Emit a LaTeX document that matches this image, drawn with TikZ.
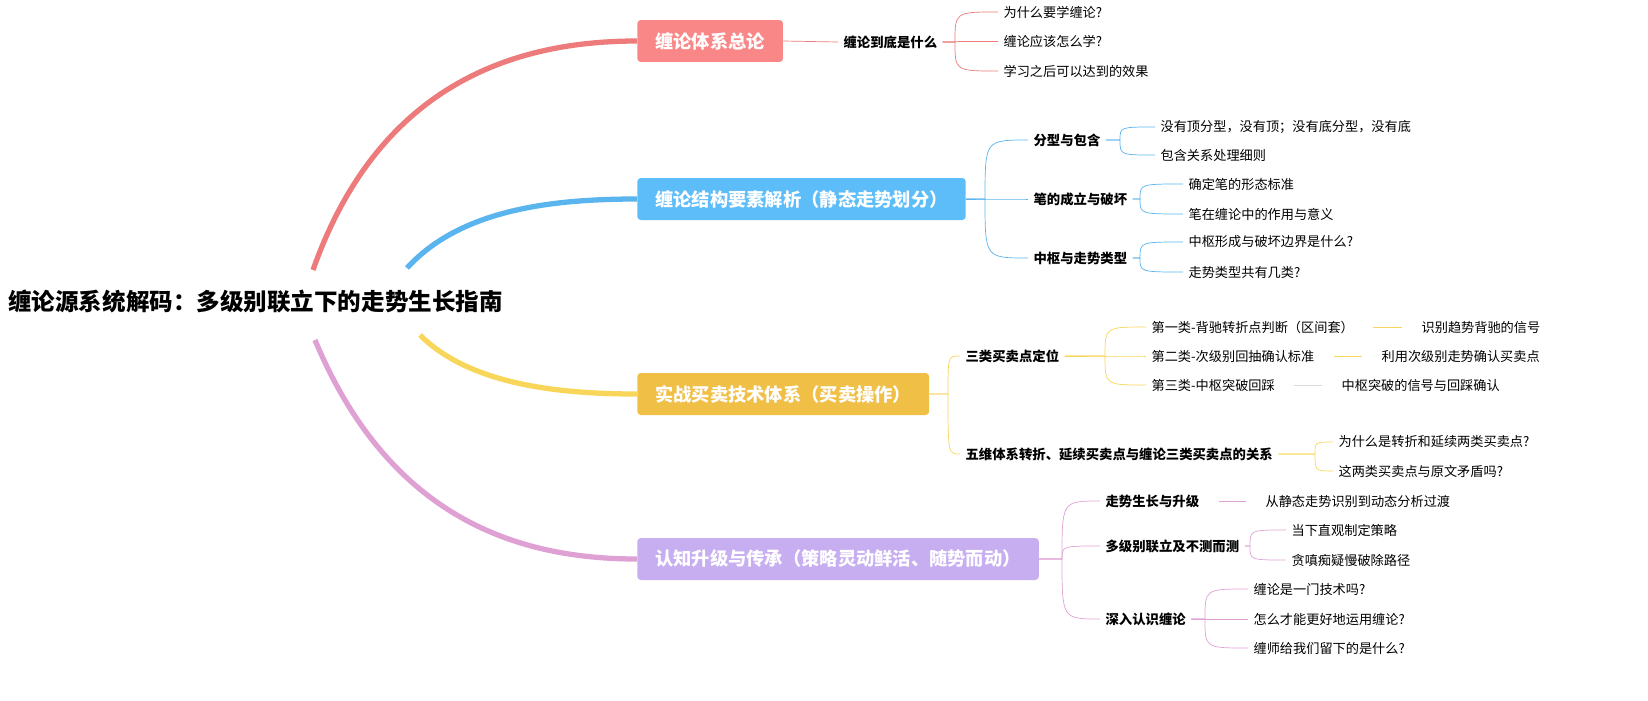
\documentclass[tikz,border=0pt]{standalone}
\usepackage{fontspec}
\setmainfont{Noto Sans CJK SC}
\definecolor{cred}{HTML}{F98787}
\definecolor{cblue}{HTML}{5DBDF9}
\definecolor{cyellow}{HTML}{F0BF46}
\definecolor{cpurple}{HTML}{C7AEF0}
\definecolor{lred}{HTML}{EE7B7B}
\definecolor{lblue}{HTML}{5AB4EE}
\definecolor{lyellow}{HTML}{F7D65A}
\definecolor{lpurple}{HTML}{DFA1D4}
\tikzset{
    mainbox/.style={rounded corners=2pt, text=white, font=\fontsize{10.4pt}{12pt}\selectfont\bfseries,
        minimum height=0.84cm, inner xsep=0.36cm, anchor=west},
    subitem/.style={font=\fontsize{7.6pt}{9pt}\selectfont\bfseries, anchor=west, inner sep=3pt},
    leaf/.style={font=\fontsize{7.5pt}{9pt}\selectfont, anchor=west, inner sep=3pt},
}
% fork: from parent to child through a bend point
\newcommand{\fork}[4]{\draw[#1] (#2.east) -- (#3) .. controls (#3 |- #4.west) .. (#4.west);}
\begin{document}
\begin{tikzpicture}[x=0.02cm,y=-0.02cm]
    % root
    \node[font=\fontsize{13.4pt}{15pt}\selectfont\bfseries, anchor=west, inner sep=0] (root) at (8,302) {缠论源系统解码：多级别联立下的走势生长指南};

    % main branches
    \node[mainbox, fill=cred] (b1) at (637,41) {缠论体系总论};
    \node[mainbox, fill=cblue] (b2) at (637,199) {缠论结构要素解析（静态走势划分）};
    \node[mainbox, fill=cyellow] (b3) at (637,394) {实战买卖技术体系（买卖操作）};
    \node[mainbox, fill=cpurple] (b4) at (637,559) {认知升级与传承（策略灵动鲜活、随势而动）};

    \draw[lred, line width=3pt] (313,270) .. controls (380,80) and (520,41) .. (b1.west);
    \draw[lblue, line width=3pt] (407,268) .. controls (460,210) and (550,199) .. (b2.west);
    \draw[lyellow, line width=3pt] (420,335) .. controls (470,385) and (560,394) .. (b3.west);
    \draw[lpurple, line width=3pt] (315,340) .. controls (390,520) and (520,559) .. (b4.west);

    % red
    \node[subitem] (r1) at (838,42) {缠论到底是什么};
    \draw[lred] (b1.east) -- (r1.west);
    \coordinate (fr1) at (955,42);
    \foreach \t [count=\i] in {为什么要学缠论?,缠论应该怎么学?,学习之后可以达到的效果}
    {
        \node[leaf] (r1\i) at (998,12+\i*29.5-29.5) {\t};
        \fork{lred}{r1}{fr1}{r1\i}
    }

    % blue
    \coordinate (fb2) at (985,199);
    \node[subitem] (u1) at (1028,140) {分型与包含};
    \node[subitem] (u2) at (1028,199) {笔的成立与破坏};
    \node[subitem] (u3) at (1028,258) {中枢与走势类型};
    \foreach \i in {1,2,3} { \fork{lblue}{b2}{fb2}{u\i} }
    \coordinate (fu1) at (1120,140);
    \node[leaf] (u11) at (1155,127) {没有顶分型，没有顶；没有底分型，没有底};
    \node[leaf] (u12) at (1155,155) {包含关系处理细则};
    \coordinate (fu2) at (1140,199);
    \node[leaf] (u21) at (1183,184) {确定笔的形态标准};
    \node[leaf] (u22) at (1183,214) {笔在缠论中的作用与意义};
    \coordinate (fu3) at (1140,258);
    \node[leaf] (u31) at (1183,242) {中枢形成与破坏边界是什么?};
    \node[leaf] (u32) at (1183,272) {走势类型共有几类?};
    \foreach \i in {1,2,3} { \fork{lblue}{u\i}{fu\i}{u\i1} \fork{lblue}{u\i}{fu\i}{u\i2} }

    % yellow
    \coordinate (fb3) at (948,394);
    \node[subitem] (y1) at (960,356) {三类买卖点定位};
    \node[subitem] (y2) at (960,454) {五维体系转折、延续买卖点与缠论三类买卖点的关系};
    \foreach \i in {1,2} { \fork{lyellow}{b3}{fb3}{y\i} }
    \coordinate (fy1) at (1105,356);
    \node[leaf] (y11) at (1146,327) {第一类-背驰转折点判断（区间套）};
    \node[leaf] (y12) at (1146,356) {第二类-次级别回抽确认标准};
    \node[leaf] (y13) at (1146,385) {第三类-中枢突破回踩};
    \node[leaf] (y111) at (1416,327) {识别趋势背驰的信号};
    \node[leaf] (y121) at (1376,356) {利用次级别走势确认买卖点};
    \node[leaf] (y131) at (1336,385) {中枢突破的信号与回踩确认};
    \foreach \i in {1,2,3} { \fork{lyellow}{y1}{fy1}{y1\i} }
    \draw[lyellow] ([xshift=14*0.02cm]y11.east) -- ([xshift=-14*0.02cm]y111.west);
    \draw[lyellow] ([xshift=14*0.02cm]y12.east) -- ([xshift=-14*0.02cm]y121.west);
    \draw[gray!30] ([xshift=14*0.02cm]y13.east) -- ([xshift=-14*0.02cm]y131.west);
    \coordinate (fy2) at (1315,454);
    \node[leaf] (y21) at (1333,442) {为什么是转折和延续两类买卖点?};
    \node[leaf] (y22) at (1333,471) {这两类买卖点与原文矛盾吗?};
    \foreach \i in {1,2} { \fork{lyellow}{y2}{fy2}{y2\i} }

    % purple
    \coordinate (fb4) at (1062,559);
    \node[subitem] (p1) at (1100,501) {走势生长与升级};
    \node[subitem] (p2) at (1100,546) {多级别联立及不测而测};
    \node[subitem] (p3) at (1100,619) {深入认识缠论};
    \foreach \i in {1,2,3} { \fork{lpurple}{b4}{fb4}{p\i} }
    \node[leaf] (p11) at (1260,501) {从静态走势识别到动态分析过渡};
    \draw[lpurple] ([xshift=14*0.02cm]p1.east) -- ([xshift=-14*0.02cm]p11.west);
    \coordinate (fp2) at (1250,546);
    \node[leaf] (p21) at (1286,530) {当下直观制定策略};
    \node[leaf] (p22) at (1286,560) {贪嗔痴疑慢破除路径};
    \foreach \i in {1,2} { \fork{lpurple}{p2}{fp2}{p2\i} }
    \coordinate (fp3) at (1205,619);
    \node[leaf] (p31) at (1248,589) {缠论是一门技术吗?};
    \node[leaf] (p32) at (1248,619) {怎么才能更好地运用缠论?};
    \node[leaf] (p33) at (1248,648) {缠师给我们留下的是什么?};
    \foreach \i in {1,2,3} { \fork{lpurple}{p3}{fp3}{p3\i} }

    \pgfresetboundingbox
    \path[use as bounding box] (0,0) rectangle (1648,700);
\end{tikzpicture}
\end{document}
